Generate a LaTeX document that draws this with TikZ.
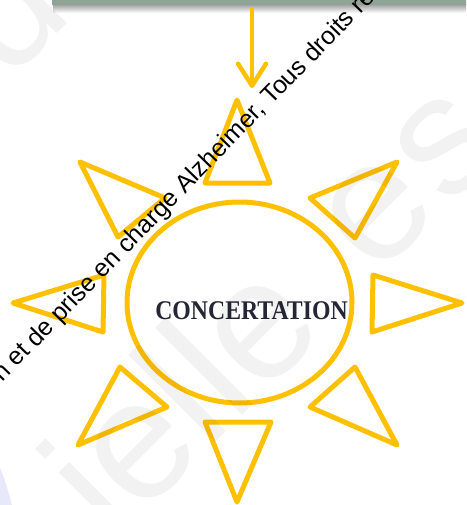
\documentclass[tikz,border=0pt]{standalone}
\usepackage{fontspec}
\setmainfont{Liberation Serif}
\newfontfamily\wmfont{Liberation Sans}
\usetikzlibrary{arrows.meta,shapes.geometric}
\definecolor{sunyellow}{HTML}{FFC000}
\definecolor{boxgreen}{HTML}{8FA396}
\definecolor{labelink}{HTML}{262636}
\definecolor{lav}{HTML}{C9CDF4}
\begin{document}
\begin{tikzpicture}[x=1pt,y=-1pt,
  ray/.style={draw=sunyellow,line width=5pt,line join=round,line cap=round},
  corestyle/.style={ellipse,draw=sunyellow,line width=5pt,minimum width=225pt,minimum height=201pt,inner sep=0pt},
  arrowline/.style={draw=sunyellow,line width=4.5pt,-{Straight Barb[length=22pt,width=28pt,round]}},
  ghost/.style={font=\wmfont\fontsize{170}{170}\selectfont,text=black,text opacity=0.05,rotate=45,anchor=mid,inner sep=0pt},
  stamp/.style={font=\wmfont\fontsize{25}{25}\selectfont,text=black,rotate=45.8,anchor=base west,inner sep=0pt}]
\useasboundingbox (0,0) rectangle (466,505);
\clip (0,0) rectangle (466,505);
% top box and its shadow
\shade[top color=black!35,bottom color=white] (53,5) rectangle (466,13);
\node[fill=boxgreen,minimum width=430pt,minimum height=40pt,anchor=south west,inner sep=0pt] (box) at (52,5) {};
% faint corner shape
\fill[lav,opacity=0.45] (0,468) .. controls (5,480) .. (12,505) -- (0,505) -- cycle;
% arrow
\coordinate (arrowtip) at (252,88);
\draw[arrowline,shorten <=3pt] (box.south -| arrowtip) -- (arrowtip);
% sun
\node[corestyle] (core) at (239.5,302.5) {};
\node[font=\bfseries\fontsize{27}{27}\selectfont,text=labelink,inner sep=0pt] (label) at (251.5,311) {\scalebox{0.88}[1]{CONCERTATION}};
\draw[ray] (237,100) -- (205,183) -- (270,183) -- cycle;
\draw[ray] (80,162) -- (165,198) -- (118,237) -- cycle;
\draw[ray] (397,162) -- (310,198) -- (355,238) -- cycle;
\draw[ray] (373,275) -- (462,303) -- (372,332) -- cycle;
\draw[ray] (13,303) -- (104,275) -- (103,332) -- cycle;
\draw[ray] (120,367) -- (167,407) -- (78,445) -- cycle;
\draw[ray] (355,367) -- (310,407) -- (397,445) -- cycle;
\draw[ray] (205,422) -- (271,422) -- (237,502) -- cycle;
% faint watermark letters
\node[ghost] (g1) at (219.5,435.5) {ielle};
\node[ghost] (g2) at (408,243) {e};
\node[ghost] (g3) at (477,177) {s};
\node[ghost] (g4) at (-25,115) {o};
\node[ghost] (g5) at (40,47) {d};
\node[ghost] (g6) at (108,-18) {e};
% black watermark line
\node[stamp] (wm) at (2,383) {n et de prise en charge Alzheimer, Tous droits re};
\end{tikzpicture}
\end{document}
